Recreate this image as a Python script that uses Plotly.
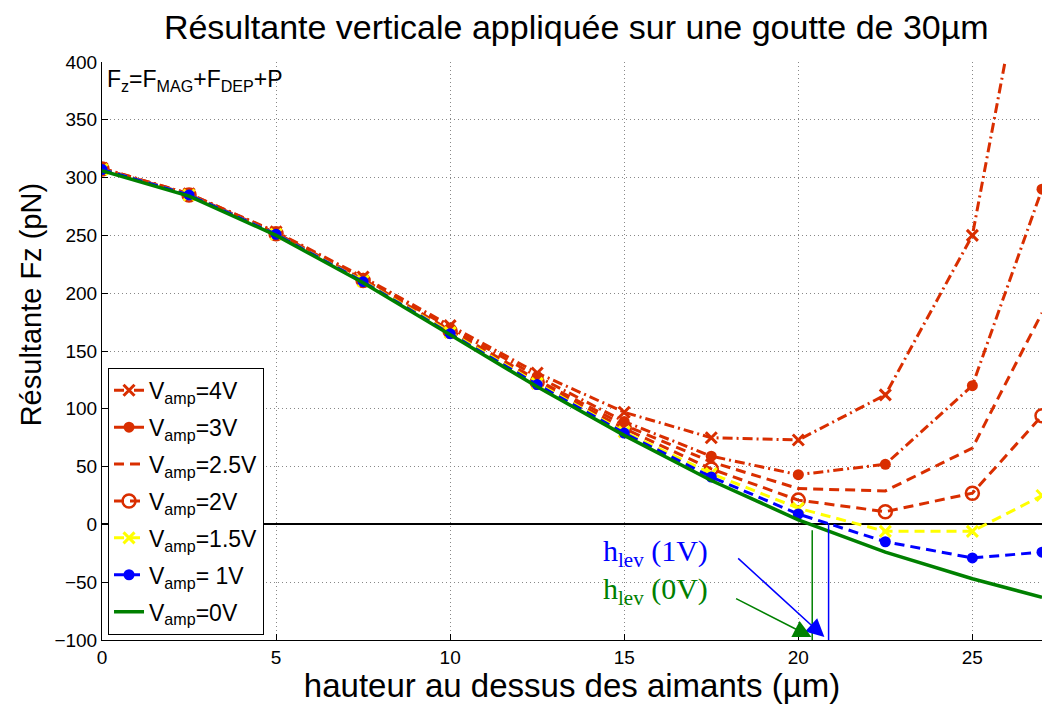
import plotly.graph_objects as go

# Height above the magnets (µm)
hauteur = [0, 2.5, 5, 7.5, 10, 12.5, 15, 17.5, 20, 22.5, 25, 27]

# Vertical resultant force Fz (pN) for each amplitude
fz_4V = [308, 286, 253, 214, 172, 131, 97, 75, 73, 112, 250, 570]
fz_3V = [308, 286, 252.5, 213, 170, 128, 89, 59, 43, 52, 120, 290]
fz_2_5V = [307.5, 285.5, 252, 212, 168, 125, 86, 54, 31, 29, 66, 183]
fz_2V = [307.5, 285, 251.5, 211, 167, 123, 83, 48, 21, 11, 27, 94]
fz_1_5V = [307, 285, 251, 210.5, 166, 122, 80, 44, 14, -6, -6, 25]
fz_1V = [307, 285, 251, 210, 165, 121, 79, 41, 9, -15, -29, -24]
fz_0V = [306, 284, 250, 209, 164, 119, 77, 38, 4, -24, -47, -63]

# Levitation heights (where Fz crosses zero)
h_lev_0V = 20.4
h_lev_1V = 20.87

RED = "#D92E00"
YELLOW = "#FFFF00"
BLUE = "#0000FF"
GREEN = "#008000"

fig = go.Figure()

series = [
    ("V<sub>amp</sub>=4V", fz_4V, RED, "10px,4px,2px,4px", dict(symbol="x-thin", size=11, line=dict(color=RED, width=3))),
    ("V<sub>amp</sub>=3V", fz_3V, RED, "10px,4px,2px,4px", dict(symbol="circle", size=11, color=RED)),
    ("V<sub>amp</sub>=2.5V", fz_2_5V, RED, "10px,6px", None),
    ("V<sub>amp</sub>=2V", fz_2V, RED, "10px,6px", dict(symbol="circle-open", size=13, color=RED, line=dict(color=RED, width=2.5))),
    ("V<sub>amp</sub>=1.5V", fz_1_5V, YELLOW, "10px,6px", dict(symbol="x-thin", size=11, line=dict(color=YELLOW, width=3))),
    ("V<sub>amp</sub>= 1V", fz_1V, BLUE, "10px,6px", dict(symbol="circle", size=11, color=BLUE)),
]

for i, (name, vals, col, dash, marker) in enumerate(series):
    fig.add_trace(go.Scatter(
        x=hauteur, y=vals, name=name, legendgroup=f"g{i}",
        mode="lines+markers" if marker else "lines",
        line=dict(color=col, width=3, dash=dash),
        marker=marker,
    ))

fig.add_trace(go.Scatter(
    x=hauteur, y=fz_0V, name="V<sub>amp</sub>=0V", mode="lines", legendgroup="g6",
    line=dict(color=GREEN, width=3.5),
))

# Vertical markers at the levitation heights
fig.add_trace(go.Scatter(x=[h_lev_0V, h_lev_0V], y=[-5, -100], mode="lines",
                         line=dict(color=GREEN, width=1.5), showlegend=False, hoverinfo="skip"))
fig.add_trace(go.Scatter(x=[h_lev_1V, h_lev_1V], y=[1, -100], mode="lines",
                         line=dict(color=BLUE, width=1.5), showlegend=False, hoverinfo="skip"))

annotations = [
    dict(text="F<sub>z</sub>=F<sub>MAG</sub>+F<sub>DEP</sub>+P", xref="paper", yref="paper",
         x=0.003, y=0.997, xanchor="left", yanchor="top", showarrow=False,
         font=dict(size=23, color="black", family="Liberation Sans, Arial")),
    dict(text="Résultante Fz (pN)", xref="paper", yref="paper",
         x=-0.076, y=0.58, xanchor="center", yanchor="middle", textangle=-90, showarrow=False,
         font=dict(size=29, color="black", family="Liberation Sans, Arial")),
    dict(text="h<sub>lev</sub> (1V)", xref="x", yref="y", x=15.9, y=-25, xanchor="center",
         yanchor="middle", showarrow=False,
         font=dict(size=30, color=BLUE, family="Liberation Serif, Times New Roman")),
    dict(text="h<sub>lev</sub> (0V)", xref="x", yref="y", x=15.9, y=-58, xanchor="center",
         yanchor="middle", showarrow=False,
         font=dict(size=30, color=GREEN, family="Liberation Serif, Times New Roman")),
    dict(text="", xref="x", yref="y", axref="x", ayref="y", x=20.75, y=-97.5,
         ax=18.23, ay=-28.2, showarrow=True, arrowhead=2, arrowsize=2.4,
         arrowwidth=1.5, arrowcolor=BLUE),
    dict(text="", xref="x", yref="y", axref="x", ayref="y", x=20.38, y=-97.5,
         ax=18.17, ay=-63.6, showarrow=True, arrowhead=2, arrowsize=2.4,
         arrowwidth=1.5, arrowcolor=GREEN),
]

fig.update_layout(
    width=1044, height=704,
    margin=dict(l=102, r=2, t=62, b=64),
    paper_bgcolor="white", plot_bgcolor="white",
    font=dict(family="Liberation Sans, Arial", size=19, color="black"),
    title=dict(text="Résultante verticale appliquée sur une goutte de 30µm",
               x=0.552, xanchor="center", y=0.962, yanchor="middle",
               font=dict(size=34, color="black")),
    xaxis=dict(
        range=[0, 27], tickvals=[0, 5, 10, 15, 20, 25], showline=True, linecolor="black",
        linewidth=1, ticks="inside", ticklen=6, tickcolor="black", mirror=False,
        showgrid=True, gridcolor="#888888", griddash="1px,3px", gridwidth=1, zeroline=False,
        title=dict(text="hauteur au dessus des aimants (µm)", font=dict(size=33), standoff=2),
    ),
    yaxis=dict(
        range=[-100, 400], tickvals=list(range(-100, 401, 50)), showline=True,
        linecolor="black", linewidth=1, ticks="inside", ticklen=6, tickcolor="black",
        showgrid=True, gridcolor="#888888", griddash="1px,3px", gridwidth=1,
        zeroline=True, zerolinecolor="black", zerolinewidth=1.5,
    ),
    legend=dict(
        x=0.0064, y=0.009, xanchor="left", yanchor="bottom",
        bgcolor="white", bordercolor="black", borderwidth=1,
        font=dict(size=23, color="black"), itemwidth=30, tracegroupgap=4,
    ),
    annotations=annotations,
)

fig.write_html("out.html")
